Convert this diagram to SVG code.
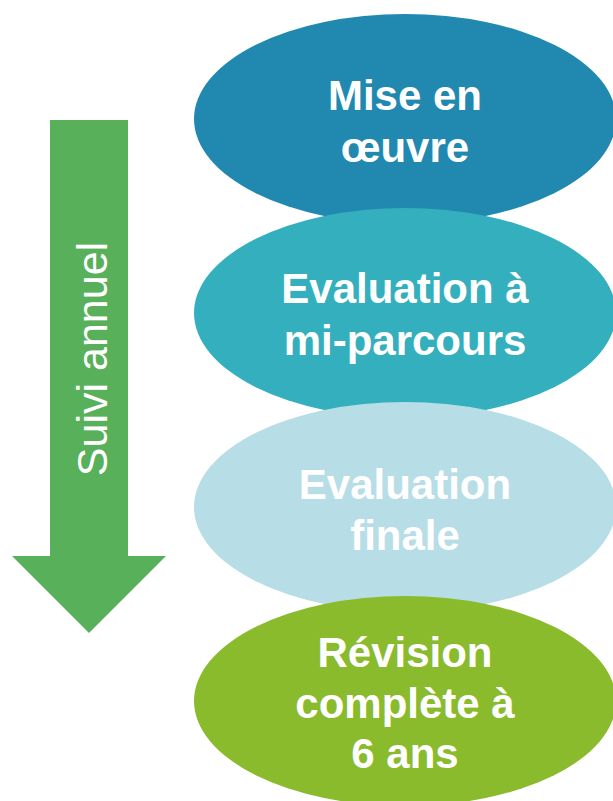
<svg xmlns="http://www.w3.org/2000/svg" width="613" height="801" viewBox="0 0 613 801">
  <style>
    .lbl { font-family: "Liberation Sans", Arial, sans-serif; font-weight: bold; font-size: 42px; fill: #ffffff; text-anchor: middle; }
    .side { font-family: "Liberation Sans", Arial, sans-serif; font-size: 43px; fill: #ffffff; text-anchor: middle; }
  </style>
  <rect width="613" height="801" fill="#ffffff"/>
  <g id="arrow">
    <polygon points="50,120 128,120 128,556 166,556 89,633 12,556 50,556" fill="#58b15a"/>
    <text class="side" x="107" y="359" transform="rotate(-90 107 359)">Suivi annuel</text>
  </g>
  <g id="node-mise-en-oeuvre">
    <ellipse cx="405" cy="119" rx="211" ry="105" fill="#2189b0"/>
    <text class="lbl" x="405" y="110">Mise en</text>
    <text class="lbl" x="405" y="162">œuvre</text>
  </g>
  <g id="node-evaluation-mi-parcours">
    <ellipse cx="405" cy="313" rx="211" ry="105" fill="#34afbd"/>
    <text class="lbl" x="405" y="303">Evaluation à</text>
    <text class="lbl" x="405" y="355">mi-parcours</text>
  </g>
  <g id="node-evaluation-finale">
    <ellipse cx="405" cy="507" rx="211" ry="105" fill="#b7dde7"/>
    <text class="lbl" x="405" y="499">Evaluation</text>
    <text class="lbl" x="405" y="550">finale</text>
  </g>
  <g id="node-revision">
    <ellipse cx="405" cy="701" rx="211" ry="105" fill="#89bb2d"/>
    <text class="lbl" x="405" y="667">Révision</text>
    <text class="lbl" x="405" y="718">complète à</text>
    <text class="lbl" x="405" y="768">6 ans</text>
  </g>
  <g id="connectors"/>
</svg>
